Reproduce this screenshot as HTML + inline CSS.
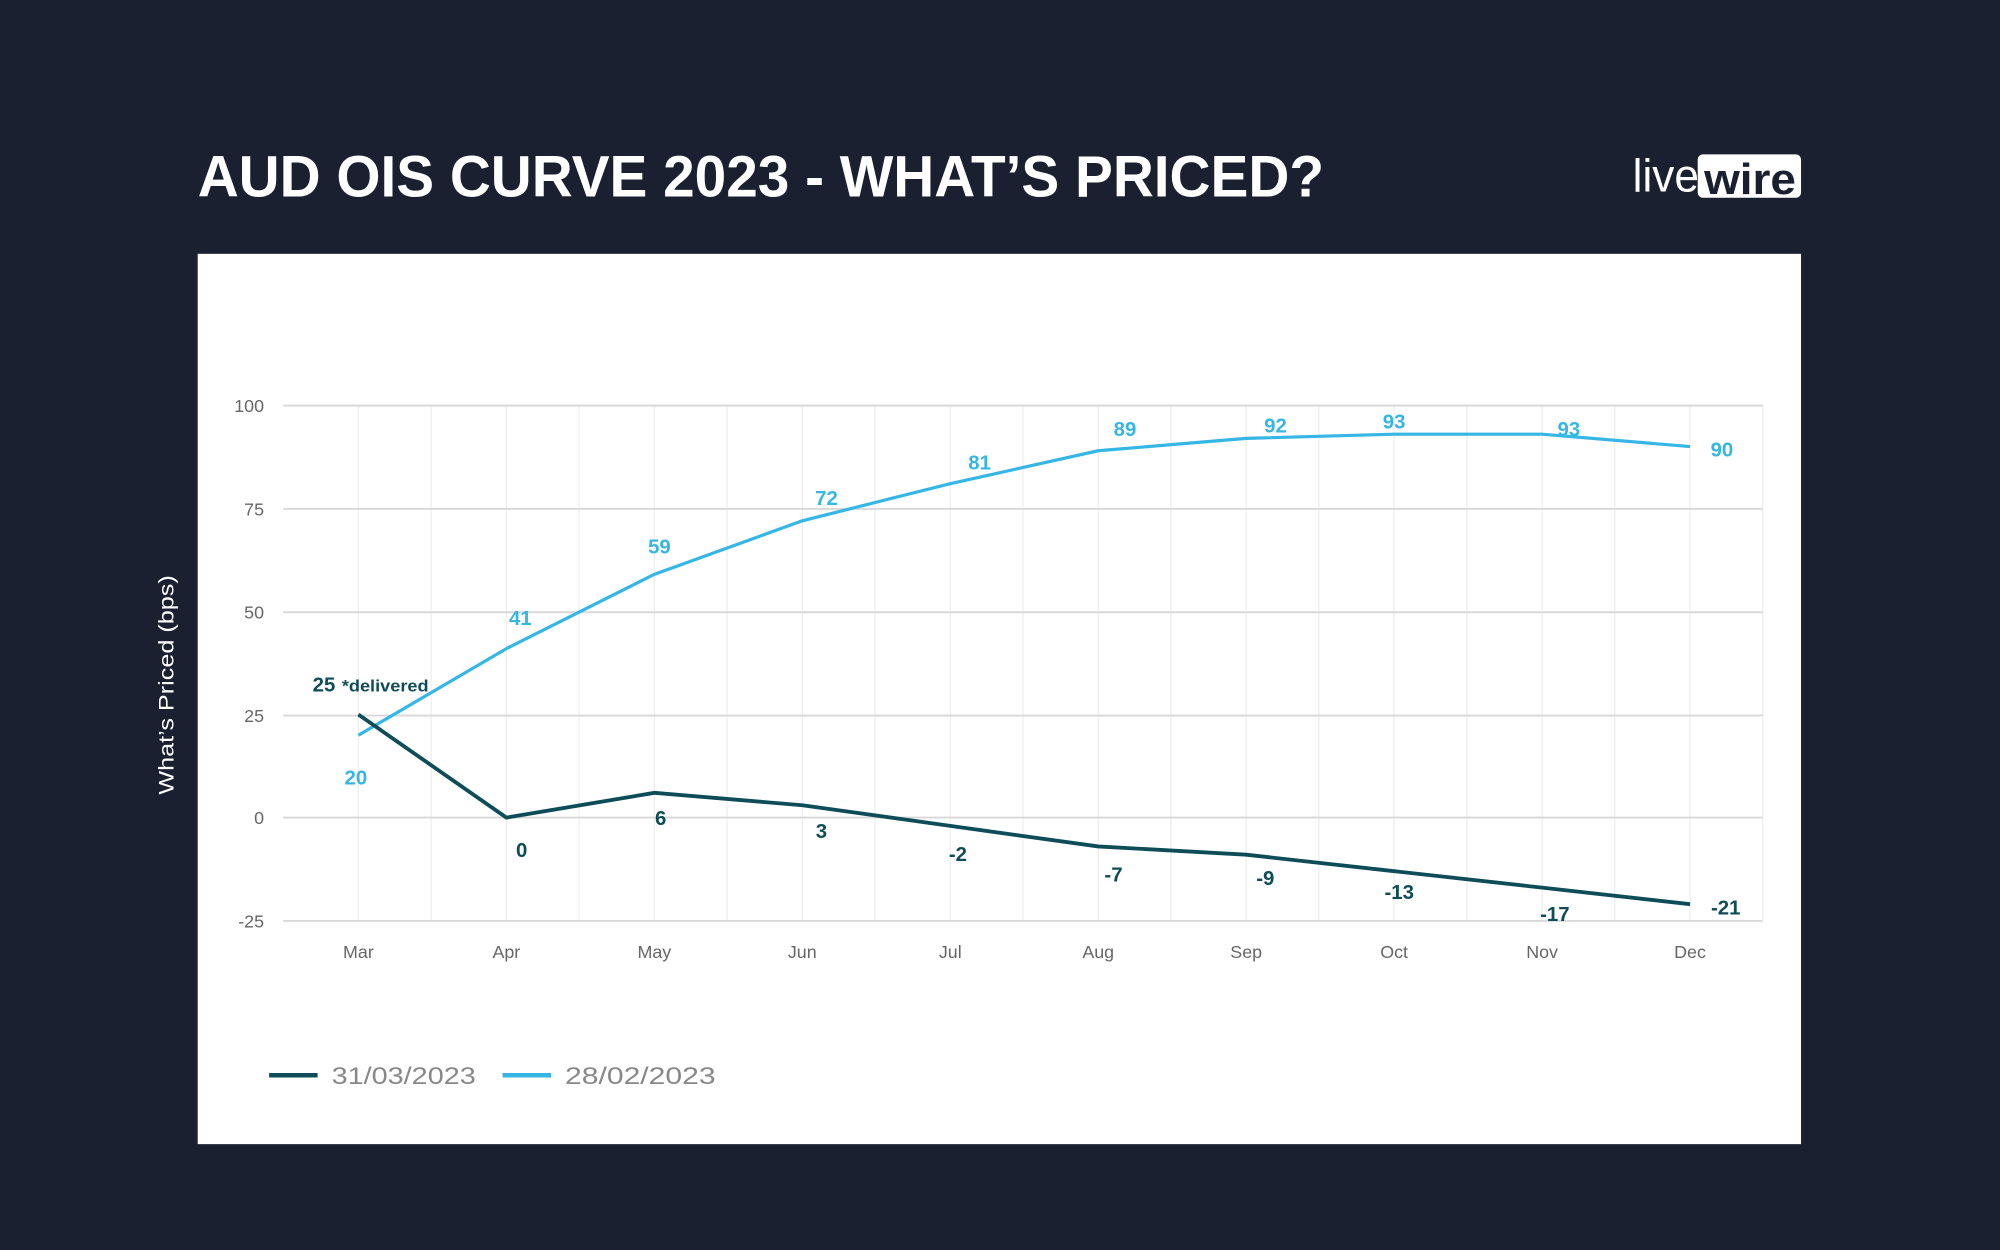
<!DOCTYPE html>
<html><head><meta charset="utf-8"><style>
html,body{margin:0;padding:0;background:#1b2030;}
svg{display:block}
</style></head><body>
<svg width="2000" height="1250" viewBox="0 0 1568 980" xmlns="http://www.w3.org/2000/svg" font-family="Liberation Sans, sans-serif">
<rect width="1568" height="980" fill="#1b2030"/>
<text x="155" y="154" fill="#fff" font-weight="bold" font-size="46" textLength="883" lengthAdjust="spacingAndGlyphs">AUD OIS CURVE 2023 - WHAT’S PRICED?</text>
<text x="1280" y="150" fill="#fff" font-size="36" textLength="52" lengthAdjust="spacingAndGlyphs">live</text>
<rect x="1331" y="121" width="81" height="34" rx="4" fill="#fff"/>
<text x="1336" y="152" fill="#1b2030" font-weight="bold" font-size="34" textLength="72" lengthAdjust="spacingAndGlyphs">wire</text>
<rect x="155" y="199" width="1257" height="698" fill="#fff"/>
<g stroke="#eeeeee" stroke-width="1">
<line x1="338" y1="318" x2="338" y2="722"/><line x1="454" y1="318" x2="454" y2="722"/><line x1="570" y1="318" x2="570" y2="722"/><line x1="686" y1="318" x2="686" y2="722"/><line x1="802" y1="318" x2="802" y2="722"/><line x1="918" y1="318" x2="918" y2="722"/><line x1="1034" y1="318" x2="1034" y2="722"/><line x1="1150" y1="318" x2="1150" y2="722"/><line x1="1266" y1="318" x2="1266" y2="722"/><line x1="1382" y1="318" x2="1382" y2="722"/>
<line x1="281" y1="318" x2="281" y2="722"/><line x1="397" y1="318" x2="397" y2="722"/><line x1="513" y1="318" x2="513" y2="722"/><line x1="629" y1="318" x2="629" y2="722"/><line x1="745" y1="318" x2="745" y2="722"/><line x1="861" y1="318" x2="861" y2="722"/><line x1="977" y1="318" x2="977" y2="722"/><line x1="1093" y1="318" x2="1093" y2="722"/><line x1="1209" y1="318" x2="1209" y2="722"/><line x1="1325" y1="318" x2="1325" y2="722"/>
</g>
<g stroke="#d9d9d9" stroke-width="1.5">
<line x1="222" y1="318" x2="1382" y2="318"/><line x1="222" y1="399" x2="1382" y2="399"/><line x1="222" y1="480" x2="1382" y2="480"/><line x1="222" y1="561" x2="1382" y2="561"/><line x1="222" y1="641" x2="1382" y2="641"/><line x1="222" y1="722" x2="1382" y2="722"/>
</g>
<g fill="#666" font-size="14" text-anchor="end">
<text x="207" y="323">100</text><text x="207" y="404">75</text><text x="207" y="485">50</text><text x="207" y="566">25</text><text x="207" y="646">0</text><text x="207" y="727">-25</text>
</g>
<g fill="#666" font-size="14" text-anchor="middle">
<text x="281" y="751">Mar</text><text x="397" y="751">Apr</text><text x="513" y="751">May</text><text x="629" y="751">Jun</text><text x="745" y="751">Jul</text><text x="861" y="751">Aug</text><text x="977" y="751">Sep</text><text x="1093" y="751">Oct</text><text x="1209" y="751">Nov</text><text x="1325" y="751">Dec</text>
</g>
<text transform="translate(136,537) rotate(-90)" fill="#fff" font-size="17" text-anchor="middle" textLength="172" lengthAdjust="spacingAndGlyphs">What’s Priced (bps)</text>
<polyline fill="none" stroke="#35b6e5" stroke-width="2.5" points="281,576.4 397,508.5 513,450.3 629,408.3 745,379.2 861,353.4 977,343.7 1093,340.4 1209,340.4 1325,350.1"/>
<polyline fill="none" stroke="#0e4d58" stroke-width="3" points="281,560.2 397,641 513,621.6 629,631.3 745,647.5 861,663.6 977,670.1 1093,683 1209,695.9 1325,708.9"/>
<g fill="#35b6e5" font-size="16" font-weight="bold" text-anchor="middle">
<text x="279" y="615">20</text><text x="408" y="490">41</text><text x="517" y="434">59</text><text x="648" y="396">72</text><text x="768" y="368">81</text><text x="882" y="342">89</text><text x="1000" y="339">92</text><text x="1093" y="336">93</text><text x="1230" y="342">93</text><text x="1350" y="358">90</text>
</g>
<g fill="#0e4d58" font-size="16" font-weight="bold" text-anchor="middle">
<text x="254" y="542">25</text><text x="409" y="672">0</text><text x="518" y="647">6</text><text x="644" y="657">3</text><text x="751" y="675">-2</text><text x="873" y="691">-7</text><text x="992" y="694">-9</text><text x="1097" y="705">-13</text><text x="1219" y="722">-17</text><text x="1353" y="717">-21</text>
</g>
<text x="268" y="542" fill="#0e4d58" font-size="13" font-weight="bold" textLength="68" lengthAdjust="spacingAndGlyphs">*delivered</text>
<line x1="211" y1="843" x2="249" y2="843" stroke="#0e4d58" stroke-width="3.5"/>
<text x="260" y="850" fill="#888" font-size="19" textLength="113" lengthAdjust="spacingAndGlyphs">31/03/2023</text>
<line x1="394" y1="843" x2="432" y2="843" stroke="#35b6e5" stroke-width="3.5"/>
<text x="443" y="850" fill="#888" font-size="19" textLength="118" lengthAdjust="spacingAndGlyphs">28/02/2023</text>
</svg>
</body></html>
